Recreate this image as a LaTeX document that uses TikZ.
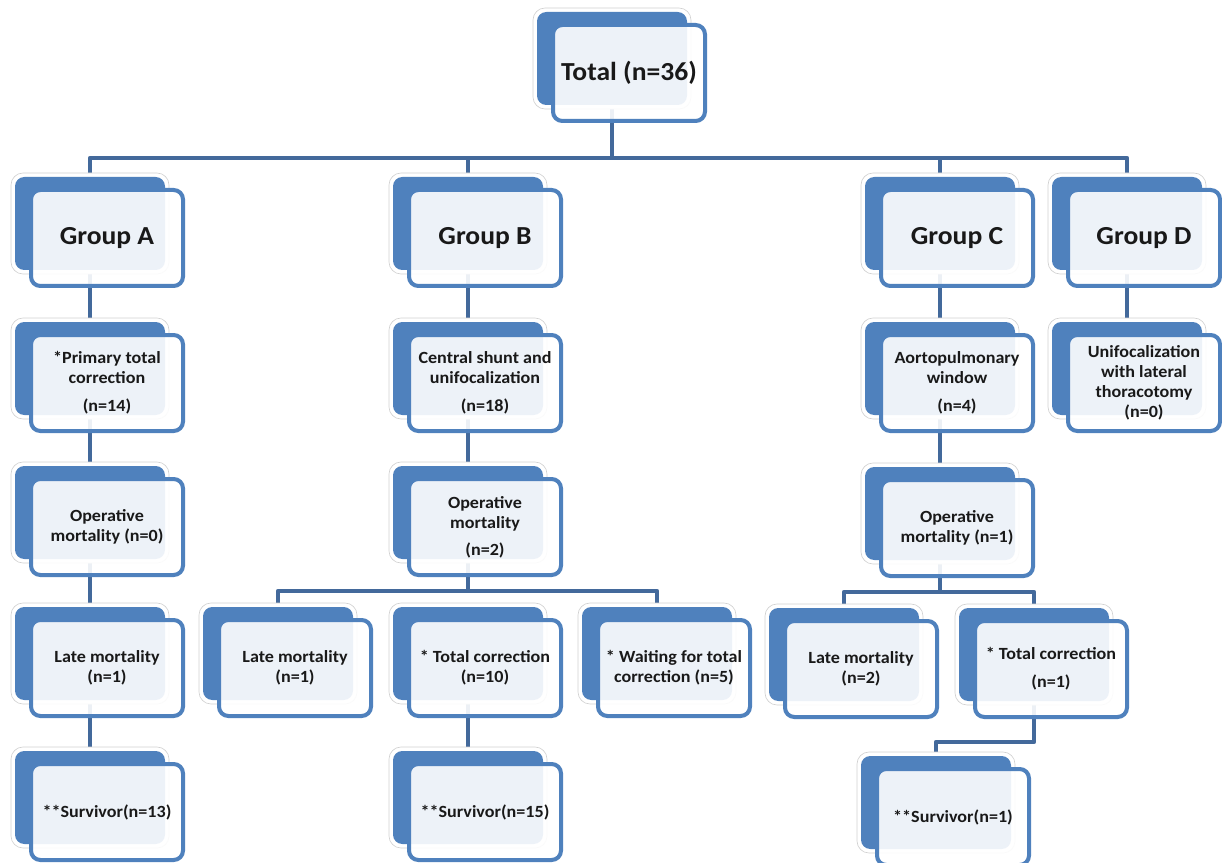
\documentclass[tikz,border=0pt]{standalone}
\usepackage{fontspec}
\setmainfont{Carlito}[FakeStretch=1.06]
\usetikzlibrary{backgrounds}
\definecolor{boxblue}{HTML}{4F81BD}
\definecolor{linkblue}{HTML}{43699B}
\tikzset{
  glow/.style={fill=white, draw=black!18, line width=0.5pt, rounded corners=9pt},
  backbox/.style={fill=boxblue, rounded corners=7pt},
  frontbox/.style={draw=boxblue, line width=3pt, fill=white, fill opacity=0.9, text opacity=1,
    rounded corners=7pt, minimum width=114pt, minimum height=72pt, inner sep=0pt,
    align=center, font=\bfseries\fontsize{12.8}{15}\selectfont, text=black!90},
  bigtext/.style={font=\bfseries\fontsize{19.5}{23}\selectfont},
  conn/.style={draw=linkblue, line width=3.2pt, line join=round}
}
% #1 extra style, #2 name, #3 front left (px), #4 front top (px), #5 text
\newcommand\blk[5][]{%
  \path[glow] (#3-18,#4-15) rectangle (#3+140,#4+86);
  \path[backbox] (#3-14,#4-11) rectangle (#3+136,#4+82);
  \coordinate (#2-b) at (#3+61,#4+35.5);
  \node[frontbox,#1] (#2) at (#3+78,#4+50) {#5};
}
\begin{document}
\begin{tikzpicture}[x=0.75pt,y=-0.75pt]
\useasboundingbox (0,0) rectangle (1222,863);
\clip (0,0) rectangle (1222,863);
% row 0
\blk[bigtext]{tot}{551}{23}{Total (n=36)}
% row 1
\blk[bigtext]{ga}{29}{188}{Group A}
\blk[bigtext]{gb}{407}{188}{Group B}
\blk[bigtext]{gc}{879}{188}{Group C}
\blk[bigtext]{gd}{1066}{188}{Group D}
% row 2
\blk{a2}{29}{333}{*Primary total\\correction\\[6pt](n=14)}
\blk{b2}{407}{333}{Central shunt and\\unifocalization\\[6pt](n=18)}
\blk{c2}{879}{333}{Aortopulmonary\\window\\[6pt](n=4)}
\blk{d2}{1066}{333}{Unifocalization\\with lateral\\thoracotomy\\(n=0)}
% row 3
\blk{a3}{29}{477}{Operative\\mortality (n=0)}
\blk{b3}{407}{477}{Operative\\mortality\\[5pt](n=2)}
\blk{c3}{879}{478}{Operative\\mortality (n=1)}
% row 4
\blk{a4}{29}{618}{Late mortality\\(n=1)}
\blk{b4l}{217}{618}{Late mortality\\(n=1)}
\blk{b4m}{407}{618}{* Total correction\\(n=10)}
\blk{b4r}{596}{618}{* Waiting for total\\correction (n=5)}
\blk{c4l}{783}{619}{Late mortality\\(n=2)}
\blk{c4r}{973}{619}{* Total correction\\[6pt](n=1)}
% row 5
\blk{a5}{29}{762}{**Survivor(n=13)}
\blk{b5}{407}{762}{**Survivor(n=15)}
\blk{c5}{875}{767}{**Survivor(n=1)}
% connectors
\begin{scope}[on background layer]
  \path (0,158) coordinate (y1) (0,591) coordinate (y2)
        (0,592) coordinate (y3) (0,742) coordinate (y4);
  \draw[conn] (tot-b) -- (tot-b |- y1);
  \draw[conn] (ga-b) -- (ga-b |- y1) -- (gd-b |- y1) -- (gd-b);
  \draw[conn] (gb-b) -- (gb-b |- y1);
  \draw[conn] (gc-b) -- (gc-b |- y1);
  \draw[conn] (ga-b) -- (a5-b);
  \draw[conn] (gb-b) -- (b3-b);
  \draw[conn] (b3-b) -- (b3-b |- y2);
  \draw[conn] (b4l-b) -- (b4l-b |- y2) -- (b4r-b |- y2) -- (b4r-b);
  \draw[conn] (b4m-b) -- (b5-b);
  \draw[conn] (gc-b) -- (c3-b);
  \draw[conn] (c3-b) -- (c3-b |- y3);
  \draw[conn] (c4l-b) -- (c4l-b |- y3) -- (c4r-b |- y3) -- (c4r-b);
  \draw[conn] (c4r-b) -- (c4r-b |- y4) -- (c5-b |- y4) -- (c5-b);
  \draw[conn] (gd-b) -- (d2-b);
\end{scope}
\end{tikzpicture}
\end{document}
